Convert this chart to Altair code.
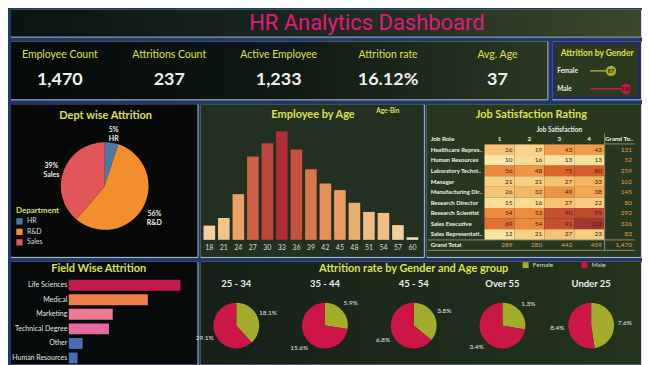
import altair as alt
import pandas as pd

# ---------------- data ----------------
kpi_labels = ["Employee Count", "Attritions Count", "Active Employee", "Attrition rate", "Avg. Age"]
kpi_values = ["1,470", "237", "1,233", "16.12%", "37"]

gender_names = ["Female", "Male"]
gender_attrition = [87, 150]

dept_names = ["HR", "R&D", "Sales"]
dept_attrition = [12, 133, 92]

age_bins = [18, 21, 24, 27, 30, 33, 36, 39, 42, 45, 48, 51, 54, 57, 60]
age_counts = [28, 43, 90, 164, 190, 214, 178, 139, 111, 98, 73, 55, 53, 29, 5]

job_roles = ["Healthcare Repres..", "Human Resources", "Laboratory Techni..", "Manager",
             "Manufacturing Dir..", "Research Director", "Research Scientist",
             "Sales Executive", "Sales Representati.."]
sat_levels = ["1", "2", "3", "4"]
sat_1 = [26, 10, 56, 21, 26, 15, 54, 69, 12]
sat_2 = [19, 16, 48, 21, 32, 16, 53, 54, 21]
sat_3 = [43, 13, 75, 27, 49, 27, 90, 91, 27]
sat_4 = [43, 13, 80, 33, 38, 22, 95, 112, 23]
role_totals = [131, 52, 259, 102, 145, 80, 292, 326, 83]
level_totals = [289, 280, 442, 459]

fields = ["Life Sciences", "Medical", "Marketing", "Technical Degree", "Other", "Human Resources"]
field_attrition = [89, 63, 35, 32, 11, 7]

age_groups = ["25 - 34", "35 - 44", "45 - 54", "Over 55", "Under 25"]
female_rate = [18.1, 5.9, 3.8, 1.3, 7.6]
male_rate = [29.1, 15.6, 6.8, 3.4, 8.4]

# ---------------- style ----------------
FONT = "Lato"
YEL = "#dfe14e"
WHITE = "#f0f0f0"
GENDER_COLORS = ["#a3ad2b", "#cc1646"]
DEPT_COLORS = ["#4e79a7", "#f28e2b", "#e15759"]
FIELD_COLORS = ["#c4194c", "#ef7d49", "#ee7a98", "#e56aa2", "#4a6cb2", "#4a6cb2"]

W_ALL = 632
H_TOP, H_KPI, H_MID, H_BOT = 27, 58, 153, 103
W_KPI, W_GEN = 538, 89
W_DEPT, W_AGE, W_JOB = 187, 224, 215
W_FIELD, W_PIES = 187, 442


def grad(*stops):
    return {"gradient": "linear", "x1": 0, "y1": 0, "x2": 1, "y2": 0,
            "stops": [{"offset": o, "color": c} for o, c in stops]}


def panel_bg(w, h, fill, stroke=None):
    kw = {"fill": fill}
    inset = 0
    if stroke:
        kw.update(stroke=stroke, strokeWidth=3)
        inset = 1.5
    return alt.Chart(pd.DataFrame({"b": [0]})).mark_rect(**kw).encode(
        x=alt.value(inset), x2=alt.value(w - inset), y=alt.value(inset), y2=alt.value(h - inset))


def text_at(t, x, y, size, color=YEL, weight="bold", font=FONT, align="center"):
    return alt.Chart(pd.DataFrame({"t": [t]})).mark_text(
        fontSize=size, color=color, fontWeight=weight, font=font, align=align, baseline="middle"
    ).encode(x=alt.value(x), y=alt.value(y), text="t:N")


# ---------------- title band ----------------
top = alt.layer(
    panel_bg(W_ALL, H_TOP, grad((0, "#0a1412"), (0.55, "#1d2b22"), (1, "#3a4828"))),
    text_at("HR Analytics Dashboard", 357, 14, 22, color="#e3197d", weight="normal", font="Roboto"),
).properties(width=W_ALL, height=H_TOP)

# ---------------- KPI ----------------
kpi_df = pd.DataFrame({"k": kpi_labels, "v": kpi_values})
kx = alt.X("k:N", scale=alt.Scale(type="point", domain=kpi_labels, range=[49, 488], padding=0), axis=None)
kpi = alt.layer(
    panel_bg(W_KPI, H_KPI, grad((0, "#050909"), (0.5, "#0e1814"), (1, "#2a3822"))),
    alt.Chart(kpi_df).mark_text(fontSize=10.5, color=YEL, font=FONT).encode(
        x=kx, y=alt.value(14), text="k:N"),
    alt.Chart(kpi_df).mark_text(fontSize=18, color=WHITE, font=FONT, fontWeight="bold").encode(
        x=kx, y=alt.value(39), text="v:N"),
).properties(width=W_KPI, height=H_KPI)

# ---------------- attrition by gender ----------------
g_df = pd.DataFrame({"g": gender_names, "n": gender_attrition})
gy = alt.Y("g:N", scale=alt.Scale(type="point", domain=gender_names, range=[29.5, 47.5], padding=0), axis=None)
gx = alt.X("n:Q", scale=alt.Scale(domain=[0, 150], range=[38, 74], nice=False), axis=None)
gcol = alt.Color("g:N", scale=alt.Scale(domain=gender_names, range=GENDER_COLORS), legend=None)
gen = alt.layer(
    panel_bg(W_GEN, H_KPI, "#2b391f", stroke="#242a66"),
    text_at("Attrition by Gender", 45, 11.5, 8.5),
    alt.Chart(g_df).mark_text(align="left", fontSize=6.5, color=WHITE, fontWeight="bold", font=FONT).encode(
        x=alt.value(5), y=gy, text="g:N"),
    alt.Chart(g_df).mark_rule(strokeWidth=1.5).encode(x=gx, x2=alt.datum(0), y=gy, color=gcol),
    alt.Chart(g_df).mark_circle(size=110, opacity=1).encode(x=gx, y=gy, color=gcol),
    alt.Chart(g_df).mark_text(fontSize=5.5, fontWeight="bold", color="#2a1a10", font=FONT).encode(
        x=gx, y=gy, text="n:Q"),
).properties(width=W_GEN, height=H_KPI)

# ---------------- dept wise attrition ----------------
tot_dept = sum(dept_attrition)
d_df = pd.DataFrame({"d": dept_names, "n": dept_attrition,
                     "lab": [f"{round(100 * n / tot_dept)}%\n{d}" for d, n in zip(dept_names, dept_attrition)]})
dept_base = alt.Chart(d_df).transform_stack(
    stack="n", as_=["t0", "t1"], groupby=[], offset="normalize",
    sort=[alt.SortField("d", order="ascending")],
).transform_calculate(tm="(datum.t0 + datum.t1) / 2")
unit_theta = alt.Scale(domain=[0, 1])
dcol = alt.Color("d:N", scale=alt.Scale(domain=dept_names, range=DEPT_COLORS),
                 legend=alt.Legend(orient="none", legendX=5, legendY=103, title="Department",
                                   titleFontSize=8, titleColor=YEL, titleFont=FONT, titleFontWeight="bold",
                                   labelFontSize=7, labelColor="#dddddd", labelFont=FONT,
                                   symbolType="square", symbolSize=40, symbolStrokeWidth=0,
                                   rowPadding=2.5, titlePadding=3, padding=0))
dept = alt.layer(
    panel_bg(W_DEPT, H_MID, "#060908"),
    text_at("Dept wise Attrition", 95, 12, 11),
    dept_base.mark_arc(outerRadius=44).encode(
        theta=alt.Theta("t0:Q", scale=unit_theta), theta2="t1:Q", color=dcol,
        x=alt.value(94), y=alt.value(82)),
    dept_base.mark_text(radius=57, fontSize=7, color=WHITE, fontWeight="bold", font=FONT,
                        lineBreak="\n").encode(
        theta=alt.Theta("tm:Q", scale=unit_theta), x=alt.value(94), y=alt.value(82), text="lab:N"),
).properties(width=W_DEPT, height=H_MID)

# ---------------- employee by age ----------------
a_df = pd.DataFrame({"age": age_bins, "n": age_counts})
age = alt.layer(
    panel_bg(W_AGE, H_MID, "#213020"),
    text_at("Employee by Age", 113, 11, 11),
    text_at("Age-Bin", 188, 6.5, 6.5),
    alt.Chart(a_df).mark_bar().encode(
        x=alt.X("age:O", scale=alt.Scale(range=[1.7, 220], paddingInner=0.2, paddingOuter=0.1),
                axis=alt.Axis(orient="bottom", offset=-17, domain=False, ticks=False, labelFontSize=7,
                              labelColor="#dddddd", labelFont=FONT, labelPadding=3.5, title=None,
                              labelAngle=0, grid=False, zindex=1)),
        y=alt.Y("n:Q", scale=alt.Scale(domain=[0, 214], range=[136, 27], nice=False), axis=None),
        color=alt.Color("n:Q", scale=alt.Scale(domain=[0, 107, 214], range=["#f9e4b8", "#e8945a", "#b02a38"]),
                        legend=None),
    ),
).properties(width=W_AGE, height=H_MID)

# ---------------- job satisfaction ----------------
sat_matrix = [sat_1, sat_2, sat_3, sat_4]
cells = pd.DataFrame([{"role": r, "col": lvl, "v": sat_matrix[j][i]}
                      for j, lvl in enumerate(sat_levels) for i, r in enumerate(job_roles)])
tot_rows = [{"role": r, "col": "Grand Total", "t": str(role_totals[i])} for i, r in enumerate(job_roles)]
tot_rows += [{"role": "Grand Total", "col": lvl, "t": str(level_totals[j])} for j, lvl in enumerate(sat_levels)]
tot_rows += [{"role": "Grand Total", "col": "Grand Total", "t": f"{sum(role_totals):,}"}]
totals = pd.DataFrame(tot_rows)
row_domain = job_roles + ["Grand Total"]
col_domain = sat_levels + ["Grand Total"]
headers = pd.DataFrame({"col": col_domain, "h": sat_levels + ["Grand To.."]})
jx = alt.X("col:N", scale=alt.Scale(domain=col_domain, range=[58, 208], paddingInner=0, paddingOuter=0), axis=None)
jy = alt.Y("role:N", scale=alt.Scale(domain=row_domain, range=[40.3, 146.6], paddingInner=0, paddingOuter=0),
           axis=None)
one = pd.DataFrame({"b": [0]})
LINE = "#9aa08a"
job = alt.layer(
    panel_bg(W_JOB, H_MID, "#28381f"),
    text_at("Job Satisfaction Rating", 105, 10.5, 11),
    text_at("Job Satisfaction", 133, 25.5, 6.5, color="#e8e8e8"),
    text_at("Job Role", 4, 35.3, 6.3, color=WHITE, align="left"),
    alt.Chart(cells).mark_rect().encode(
        x=jx, y=jy,
        color=alt.Color("v:Q", scale=alt.Scale(domain=[10, 40, 75, 112],
                                               range=["#fde7aa", "#f5a24e", "#df642c", "#a1372f"]),
                        legend=None)),
    alt.Chart(cells).mark_text(align="right", dx=13, fontSize=6.5, color="#3a2313", font=FONT).encode(
        x=jx, y=jy, text="v:Q"),
    alt.Chart(totals).mark_text(align="right", dx=13, fontSize=6.5, color="#e0a040", font=FONT).encode(
        x=jx, y=jy, text="t:N"),
    alt.Chart(headers).mark_text(fontSize=6.3, fontWeight="bold", color=WHITE, font=FONT).encode(
        x=jx, y=alt.value(35.3), text="h:N"),
    alt.Chart(pd.DataFrame({"role": row_domain})).mark_text(
        align="left", fontSize=6, fontWeight="bold", color=WHITE, font=FONT).encode(
        x=alt.value(4), y=jy, text="role:N"),
    alt.Chart(one).mark_rule(color=LINE, strokeWidth=0.8).encode(
        x=alt.value(178.5), y=alt.value(29), y2=alt.value(146.6)),
    alt.Chart(one).mark_rule(color=LINE, strokeWidth=0.8).encode(
        x=alt.value(1), x2=alt.value(209), y=alt.value(136.1)),
    alt.Chart(one).mark_rule(color=LINE, strokeWidth=0.8).encode(
        x=alt.value(1), x2=alt.value(209), y=alt.value(146.6)),
    alt.Chart(one).mark_rule(color=LINE, strokeWidth=0.8).encode(
        x=alt.value(178.5), x2=alt.value(209), y=alt.value(39.8)),
).properties(width=W_JOB, height=H_MID)

# ---------------- field wise attrition ----------------
f_df = pd.DataFrame({"f": fields, "n": field_attrition})
field = alt.layer(
    panel_bg(W_FIELD, H_BOT, "#070a0a"),
    text_at("Field Wise Attrition", 88, 7.5, 11),
    alt.Chart(f_df).mark_bar().encode(
        y=alt.Y("f:N", scale=alt.Scale(domain=fields, range=[18, 102], paddingInner=0.25, paddingOuter=0),
                axis=alt.Axis(orient="left", offset=-58, domain=False, ticks=False, labelFontSize=7,
                              labelColor="#e6e6e6", labelPadding=2, title=None, labelFont=FONT,
                              labelLimit=80, grid=False, zindex=1)),
        x=alt.X("n:Q", scale=alt.Scale(domain=[0, 89], range=[58, 170], nice=False), axis=None),
        color=alt.Color("f:N", scale=alt.Scale(domain=fields, range=FIELD_COLORS), legend=None),
    ),
).properties(width=W_FIELD, height=H_BOT)

# ---------------- attrition by gender & age group ----------------
rows = []
for i, g in enumerate(age_groups):
    rows.append({"grp": g, "gender": "Female", "rate": female_rate[i], "lab": f"{female_rate[i]}%"})
    rows.append({"grp": g, "gender": "Male", "rate": male_rate[i], "lab": f"{male_rate[i]}%"})
p_df = pd.DataFrame(rows)
px = alt.X("grp:N", scale=alt.Scale(type="point", domain=age_groups, range=[36, 392], padding=0), axis=None)
pcol = alt.Color("gender:N", scale=alt.Scale(domain=gender_names, range=GENDER_COLORS),
                 legend=alt.Legend(orient="none", legendX=323, legendY=0, direction="horizontal", title=None,
                                   symbolType="square", symbolSize=36, symbolStrokeWidth=0,
                                   labelFontSize=6.5, labelColor="#dddddd", labelFont=FONT,
                                   columnPadding=28, labelOffset=4, padding=0))
pie_base = alt.Chart(p_df).transform_stack(
    stack="rate", as_=["t0", "t1"], groupby=["grp"], offset="normalize",
    sort=[alt.SortField("gender", order="ascending")],
).transform_calculate(tm="(datum.t0 + datum.t1) / 2")
pies = alt.layer(
    panel_bg(W_PIES, H_BOT, grad((0, "#152019"), (1, "#24341d"))),
    text_at("Attrition rate by Gender and Age group", 214, 7.5, 11),
    alt.Chart(pd.DataFrame({"grp": age_groups})).mark_text(
        fontSize=9.5, fontWeight="bold", color=WHITE, font=FONT).encode(x=px, y=alt.value(22), text="grp:N"),
    pie_base.mark_arc(outerRadius=23).encode(
        x=px, y=alt.value(64),
        theta=alt.Theta("t0:Q", scale=unit_theta), theta2="t1:Q", color=pcol),
    pie_base.mark_text(radius=34, fontSize=6.5, color="#e6e6e6", font=FONT).encode(
        x=px, y=alt.value(64), theta=alt.Theta("tm:Q", scale=unit_theta), text="lab:N"),
).properties(width=W_PIES, height=H_BOT)

# ---------------- assemble ----------------
ind = dict(color="independent", theta="independent")
row1 = alt.hconcat(kpi, gen, spacing=5, bounds="flush").resolve_scale(**ind)
row2 = alt.hconcat(dept, age, job, spacing=3, bounds="flush").resolve_scale(**ind)
row3 = alt.hconcat(field, pies, spacing=3, bounds="flush").resolve_scale(**ind)

chart = alt.vconcat(top, row1, row2, row3, spacing=3).resolve_scale(**ind).properties(
    background="#1d3a6b",
    padding={"left": 2, "top": 0, "right": 0, "bottom": 0},
).configure_view(stroke=None).configure(font=FONT)

chart.save("out.html", embed_options={"renderer": "svg", "actions": False})
